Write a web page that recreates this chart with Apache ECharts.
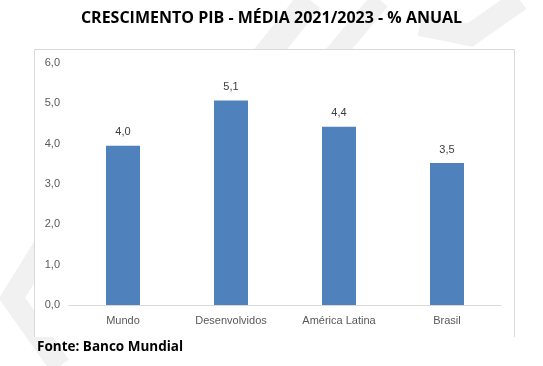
<!DOCTYPE html>
<html><head><meta charset="utf-8">
<script src="https://cdn.jsdelivr.net/npm/echarts@6/dist/echarts.min.js"></script>
<style>html,body{margin:0;padding:0;background:#fff}#c{width:543px;height:366px}</style>
</head><body><div id="c"></div>
<script>
const categories = ['Mundo', 'Desenvolvidos', 'América Latina', 'Brasil'];
const values = [3.95, 5.07, 4.42, 3.52];
const yTicks = [0, 1, 2, 3, 4, 5, 6];
const titleText = 'CRESCIMENTO PIB - MÉDIA 2021/2023 - % ANUAL';
const sourceText = 'Fonte: Banco Mundial';

const fmt = v => v.toFixed(1).replace('.', ',');
const chart = echarts.init(document.getElementById('c'), null, {renderer: 'canvas'});
const wm = '#f1f1f1';
chart.setOption({
  animation: false,
  backgroundColor: '#fff',
  title: {
    text: titleText, left: 'center', top: 5,
    textStyle: {fontFamily: 'Open Sans', fontWeight: 'bold', fontSize: 16, color: '#000'}
  },
  graphic: [
    {type: 'polyline', shape: {points: [[262, 60], [310, 0]]}, style: {stroke: wm, lineWidth: 26, fill: 'none'}, z: -10, silent: true},
    {type: 'polyline', shape: {points: [[330, 60], [380, 0]]}, style: {stroke: wm, lineWidth: 20, fill: 'none'}, z: -10, silent: true},
    {type: 'polyline', shape: {points: [[420, 25], [470, 35], [520, 0]]}, style: {stroke: wm, lineWidth: 22, fill: 'none'}, z: -10, silent: true},
    {type: 'polyline', shape: {points: [[48, 240], [12, 298], [60, 366]]}, style: {stroke: wm, lineWidth: 22, fill: 'none'}, z: -10, silent: true},
    {type: 'rect', shape: {x: 34, y: 49, width: 480, height: 288}, style: {fill: '#fff'}, z: -5, silent: true},
    {type: 'polyline', shape: {points: [[34.5, 337], [34.5, 49.5], [514.5, 49.5], [514.5, 337]]}, style: {fill: 'none', stroke: '#d9d9d9', lineWidth: 1}, z: 0, silent: true},
    {type: 'text', left: 37, top: 340, style: {text: sourceText, fontFamily: 'Open Sans', fontWeight: 'bold', fontSize: 13.5, fill: '#000'}}
  ],
  grid: {left: 69, right: 42, top: 63, bottom: 61},
  xAxis: {
    type: 'category', data: categories,
    axisLine: {lineStyle: {color: '#d9d9d9'}},
    axisTick: {show: false},
    axisLabel: {color: '#595959', fontFamily: 'Liberation Sans', fontSize: 11, margin: 10}
  },
  yAxis: {
    type: 'value', min: yTicks[0], max: yTicks[yTicks.length - 1], interval: 1,
    axisLine: {show: false}, axisTick: {show: false}, splitLine: {show: false},
    axisLabel: {color: '#595959', fontFamily: 'Liberation Sans', fontSize: 11, margin: 9, formatter: v => fmt(v)}
  },
  series: [{
    type: 'bar', data: values, barWidth: 34,
    itemStyle: {color: '#4f81bd'},
    label: {show: true, position: 'top', distance: 8, color: '#404040', fontFamily: 'Liberation Sans', fontSize: 11, formatter: p => fmt(p.value)}
  }]
});
</script></body></html>
